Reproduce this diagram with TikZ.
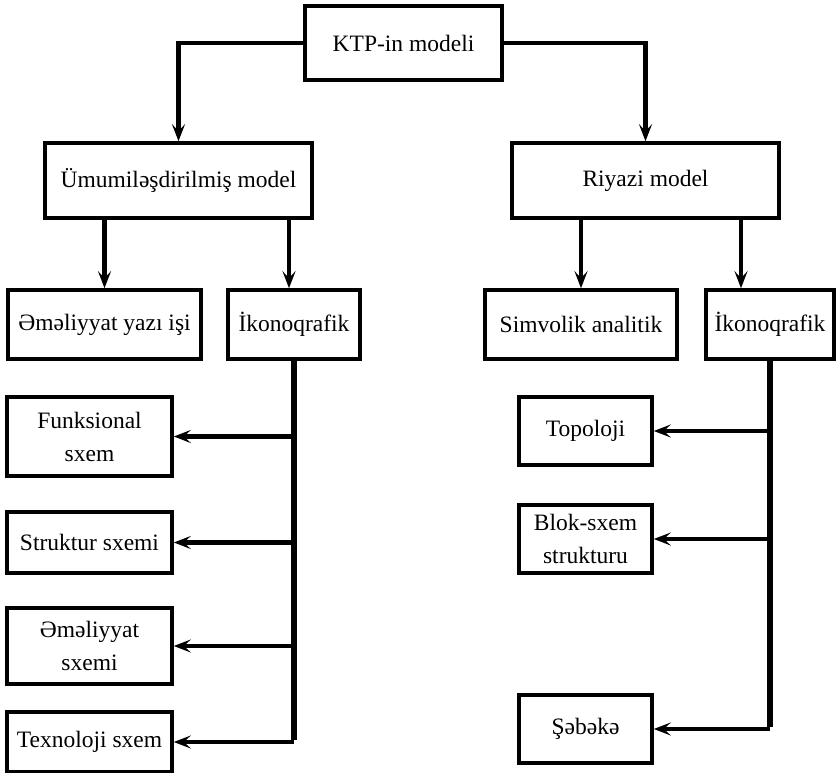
\documentclass[tikz,border=0pt]{standalone}
\usepackage{fontspec}
\setmainfont{Liberation Serif}
\usetikzlibrary{arrows.meta, positioning}

\begin{document}
\begin{tikzpicture}[x=1pt, y=-1pt,
      box/.style={draw, line width=3.6pt, minimum height=69pt,
                  inner sep=2pt, align=center,
                  font=\fontsize{23.5}{33}\selectfont},
      arr/.style={-{Stealth[length=17pt, width=13pt, inset=7pt]}, line width=4.6pt},
      branch/.style={arr, line width=4.2pt},
      trunk/.style={line width=5.5pt},
    ]
    \useasboundingbox (0,0) rectangle (836,773);

    % ── Row 1: the whole model ──
    \node[box, minimum width=197pt, minimum height=74pt] (ktp) at (403.5,43) {KTP-in modeli};

    % ── Row 2: two kinds of model ──
    \node[box, minimum width=267pt, minimum height=75pt] (umumi)  at (178.5,180.5) {Ümumiləşdirilmiş model};
    \node[box, minimum width=267pt, minimum height=75pt] (riyazi) at (645.5,180.5) {Riyazi model};
    \draw[arr] (ktp.west) -| (umumi.north);
    \draw[arr] (ktp.east) -| (riyazi.north);

    % ── Row 3: sub-models ──
    \node[box, minimum width=193pt] (emel)  at (104.5,324.5) {Əməliyyat yazı işi};
    \node[box, minimum width=132pt] (ikonL) at (294,324.5)   {İkonoqrafik};
    \node[box, minimum width=192pt] (simv)  at (581,324.5)   {Simvolik analitik};
    \node[box, minimum width=128pt] (ikonR) at (770,324.5)   {İkonoqrafik};
    \coordinate (ltap) at ([xshift=-5pt]ikonL.north);
    \coordinate (rtap) at ([xshift=-29pt]ikonR.north);

    \draw[arr] (umumi.south -| emel.north)  -- (emel.north);
    \draw[arr] (umumi.south -| ltap)        -- (ltap);
    \draw[arr] (riyazi.south -| simv.north) -- (simv.north);
    \draw[arr] (riyazi.south -| rtap)       -- (rtap);

    % ── Left column: iconographic schemes ──
    \node[box, minimum width=165pt, minimum height=79pt] (funk)   at (89.5,436.5) {Funksional\\sxem};
    \node[box, minimum width=165pt, minimum height=61pt] (strukt) at (89.5,542.5) {Struktur sxemi};
    \node[box, minimum width=165pt, minimum height=76pt] (emsx)   at (89.5,646)   {Əməliyyat\\sxemi};
    \node[box, minimum width=165pt, minimum height=60pt] (tex)    at (89.5,742)   {Texnoloji sxem};

    \draw[trunk] (ikonL.south) -- ([yshift=2pt]ikonL.south |- tex.east);
    \foreach \b in {funk, strukt, emsx, tex}
      \draw[branch] (ikonL.south |- \b.east) -- (\b.east);

    % ── Right column: mathematical forms ──
    \node[box, minimum width=133pt, minimum height=68pt] (topo)   at (585.5,431) {Topoloji};
    \node[box, minimum width=133pt, minimum height=68pt] (blok)   at (585.5,539) {Blok-sxem\\strukturu};
    \node[box, minimum width=133pt, minimum height=68pt] (sebeke) at (585.5,729) {Şəbəkə};

    \draw[trunk] (ikonR.south) -- ([yshift=2pt]ikonR.south |- sebeke.east);
    \foreach \b in {topo, blok, sebeke}
      \draw[branch] (ikonR.south |- \b.east) -- (\b.east);
  \end{tikzpicture}
\end{document}
